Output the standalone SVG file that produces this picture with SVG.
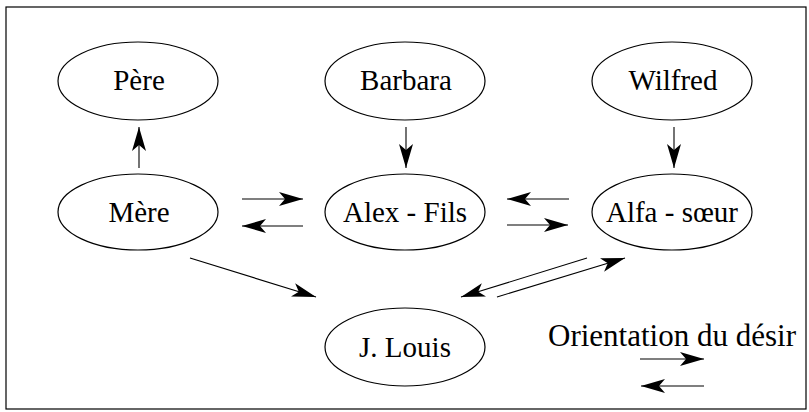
<svg xmlns="http://www.w3.org/2000/svg" width="809" height="412" viewBox="0 0 809 412">
<style>
.node ellipse{fill:#fff;stroke:#000;stroke-width:1.2}
.lbl{font-family:'Liberation Serif', serif;font-size:29px;fill:#000;text-anchor:middle}
.edge{stroke:#000;stroke-width:1.1;fill:none;marker-end:url(#ah)}
</style>
<defs>
<marker id="ah" markerUnits="userSpaceOnUse" markerWidth="28" markerHeight="18" viewBox="-26 -9 28 18" refX="0" refY="0" orient="auto">
<path d="M0,0 L-24,-7 L-18,0 L-24,7 Z" fill="#000"/>
</marker>
</defs>
<rect x="6" y="7" width="800" height="402" fill="#fff" stroke="#000" stroke-width="1.2"/>
<g id="pere" class="node"><ellipse cx="138" cy="81" rx="80" ry="39"/><text class="lbl" x="139" y="90">Père</text></g>
<g id="barbara" class="node"><ellipse cx="405" cy="81" rx="80" ry="39"/><text class="lbl" x="406" y="90">Barbara</text></g>
<g id="wilfred" class="node"><ellipse cx="672" cy="81" rx="80" ry="39"/><text class="lbl" x="673" y="90">Wilfred</text></g>
<g id="mere" class="node"><ellipse cx="138" cy="212" rx="80" ry="38"/><text class="lbl" x="139" y="222">Mère</text></g>
<g id="alex" class="node"><ellipse cx="405" cy="212" rx="80" ry="38"/><text class="lbl" x="405" y="222">Alex - Fils</text></g>
<g id="alfa" class="node"><ellipse cx="672" cy="212" rx="80" ry="38"/><text class="lbl" x="672" y="222">Alfa - sœur</text></g>
<g id="jlouis" class="node"><ellipse cx="405" cy="347" rx="80" ry="39"/><text class="lbl" x="405" y="357">J. Louis</text></g>
<g id="connectors">
<line class="edge" x1="139" y1="168" x2="139" y2="127"/>
<line class="edge" x1="406" y1="127" x2="406" y2="168"/>
<line class="edge" x1="674" y1="127" x2="674" y2="168"/>
<line class="edge" x1="242" y1="199" x2="303" y2="199"/>
<line class="edge" x1="303" y1="226" x2="242" y2="226"/>
<line class="edge" x1="569" y1="199" x2="507" y2="199"/>
<line class="edge" x1="507" y1="225" x2="568" y2="225"/>
<line class="edge" x1="190" y1="258" x2="316" y2="297"/>
<line class="edge" x1="587" y1="258" x2="461" y2="297"/>
<line class="edge" x1="497" y1="297" x2="625" y2="258"/>
</g>
<g id="legend">
<text class="lbl" x="672" y="346" style="font-size:31px">Orientation du désir</text>
<line class="edge" x1="640" y1="359" x2="704" y2="359"/>
<line class="edge" x1="704" y1="386" x2="641" y2="386"/>
</g>
</svg>
